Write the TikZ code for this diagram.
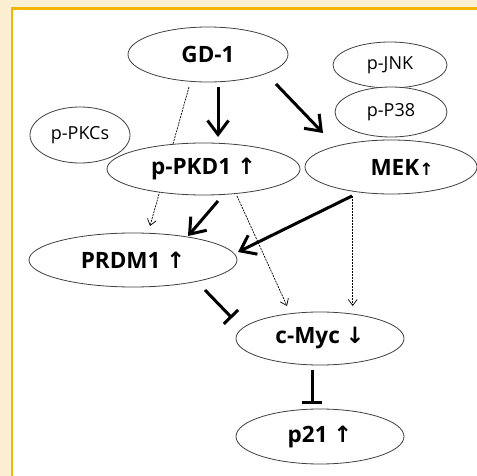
\documentclass[tikz,border=0pt]{standalone}
\usepackage{fontspec}
\setmainfont{Open Sans}
\newfontfamily\arwfont{DejaVu Sans}
\usepackage{xcolor}
\usepackage{tikz}
\usetikzlibrary{shapes.geometric,arrows.meta,calc}
\pgfdeclarelayer{frame}
\pgfdeclarelayer{edges}
\pgfsetlayers{frame,edges,main}
\definecolor{cream}{HTML}{FCEFD2}
\definecolor{gold}{HTML}{F2B705}
\newcommand{\uparr}{{\arwfont\char"2191}}
\newcommand{\dnarr}{{\arwfont\char"2193}}

\begin{document}
\begin{tikzpicture}[x=1pt, y=-1pt,
  gene/.style={ellipse, draw=black!75, fill=white, line width=0.8pt, inner sep=0pt, font=\fontsize{22.5}{26}\selectfont\bfseries},
  kin/.style={gene, font=\fontsize{18}{21}\selectfont},
  act/.style={line width=3pt, -{Straight Barb[length=14pt,width=21pt]}},
  weak/.style={line width=0.7pt, dash pattern=on 2pt off 1pt, -{Straight Barb[length=6pt,width=9pt]}},
  inh/.style={line width=3pt, -{Bar[width=20pt]}}]
\useasboundingbox (0,0) rectangle (477,476);
\begin{pgfonlayer}{frame}
\fill[white] (0,0) rectangle (481,480);
\fill[cream] (0,0) rectangle (12.3,480) (0,0) rectangle (481,8.4);
\draw[gold, line width=2.3pt] (12.3,480) -- (12.3,8.4) -- (481,8.4);
\end{pgfonlayer}
% nodes
\node[gene, minimum width=160pt, minimum height=55pt] (gd) at (208,54.5) {GD-1};
\node[kin, minimum width=114pt, minimum height=46pt] (jnk) at (390,65) {p-JNK};
\node[kin, minimum width=112pt, minimum height=50pt] (p38) at (391,112) {p-P38};
\node[kin, minimum width=100pt, minimum height=56pt] (pkc) at (80,135) {p-PKCs};
\node[gene, minimum width=193pt, minimum height=52pt] (pkd) at (203.5,169) {p-PKD1 \uparr};
\node[gene, minimum width=172pt, minimum height=54pt] (mek) at (391,167) {\hspace{22pt}MEK{\fontsize{17}{19}\selectfont\uparr}};
\node[gene, minimum width=208pt, minimum height=54pt] (prdm) at (133,260) {PRDM1 \uparr};
\node[gene, minimum width=168pt, minimum height=53pt] (myc) at (320,338.5) {c-Myc \dnarr};
\node[gene, minimum width=168pt, minimum height=55pt] (p21) at (320,436.5) {p21 \uparr};
% connectors
\begin{pgfonlayer}{edges}
\draw[act] ($(gd.center)+(10,32.5)$) -- ($(pkd.center)+(14.5,-32)$);
\draw[act] ($(gd.center)+(68,29.5)$) -- ($(mek.center)+(-68,-34)$);
\draw[weak] ($(gd.center)+(-19,32.5)$) -- ($(prdm.center)+(17,-34)$);
\draw[act] ($(pkd.center)+(14.5,32)$) -- ($(prdm.center)+(55,-24)$);
\draw[act] ($(mek.center)+(-39,29)$) -- ($(prdm.center)+(105,-8)$);
\draw[weak] ($(pkd.center)+(33.5,27)$) -- ($(myc.center)+(-33,-32.5)$);
\draw[weak] ($(mek.center)+(-38.3,29)$) -- ($(myc.center)+(32.7,-32.5)$);
\draw[inh] ($(prdm.center)+(72,30)$) -- ($(myc.center)+(-88,-20.5)$);
\draw[inh] ($(myc.center)+(-8,31.5)$) -- ($(p21.center)+(-8,-32.5)$);
\end{pgfonlayer}
\end{tikzpicture}
\end{document}
